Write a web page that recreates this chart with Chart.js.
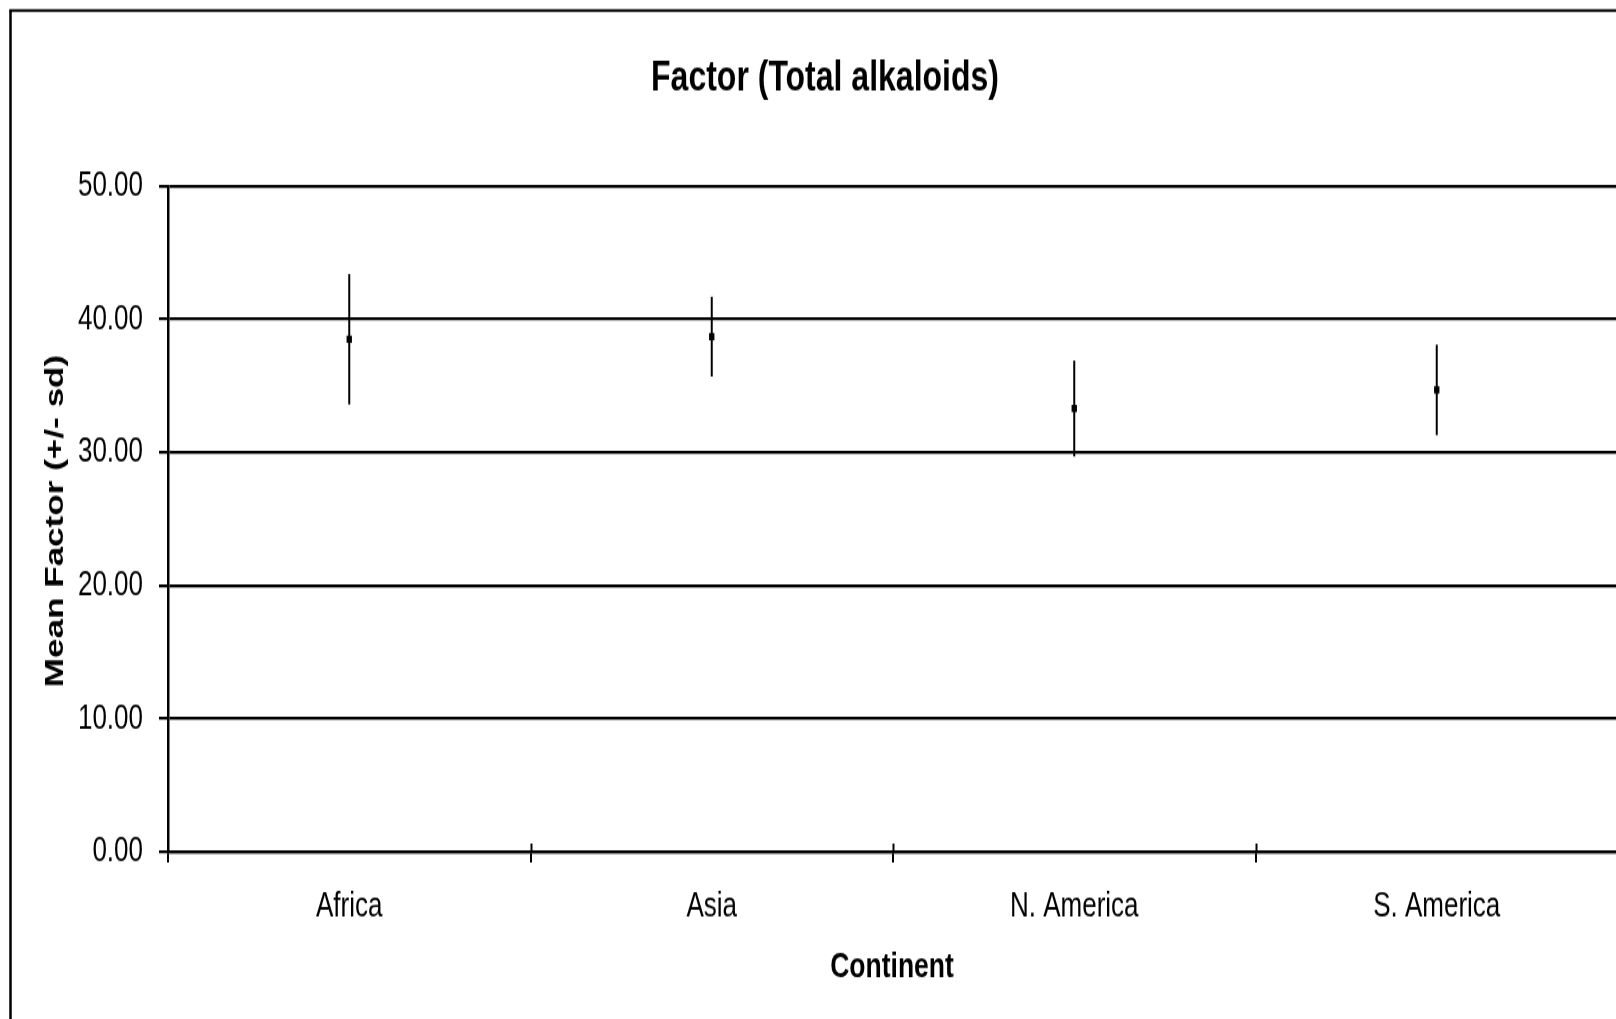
<!DOCTYPE html>
<html>
<head>
<meta charset="utf-8">
<script src="https://cdn.jsdelivr.net/npm/chart.js@4/dist/chart.umd.min.js"></script>
<style>
  html, body { margin: 0; padding: 0; background: #fff; overflow: hidden; }
  #wrap { width: 1616px; height: 1019px; position: relative; overflow: hidden; }
  /* the source chart is stretched vertically (tall, narrow-looking text);
     the canvas is a bit wider than the page because the plot runs past the right edge */
  #factorChart { position: absolute; left: 0; top: 0; transform-origin: 0 0; transform: scaleY(1.34967); }
</style>
</head>
<body>
<div id="wrap"><canvas id="factorChart" width="1622" height="755"></canvas></div>
<script>
// data
const continents = ['Africa', 'Asia', 'N. America', 'S. America'];
const meanFactor = [38.5, 38.7, 33.3, 34.7];
const sdFactor = [4.9, 3.0, 3.6, 3.4];
const yMin = 0, yMax = 50, yStep = 10;

const chartTitle = 'Factor (Total alkaloids)';
const xTitle = 'Continent';
const yTitle = 'Mean Factor (+/- sd)';

const fontFam = "'Liberation Sans', Arial, Helvetica, sans-serif";

// vertical sd lines, drawn through the y scale
const errorBars = {
    id: 'errorBars',
    beforeDatasetsDraw(chart) {
        const ctx = chart.ctx;
        const x = chart.scales.x, y = chart.scales.y;
        ctx.save();
        ctx.strokeStyle = '#000';
        ctx.lineWidth = 2;
        meanFactor.forEach((m, i) => {
            const px = x.getPixelForValue(i);
            ctx.beginPath();
            ctx.moveTo(px, y.getPixelForValue(m + sdFactor[i]));
            ctx.lineTo(px, y.getPixelForValue(m - sdFactor[i]));
            ctx.stroke();
        });
        ctx.restore();
    }
};

// titles, frame and crossing category ticks
const decorations = {
    id: 'decorations',
    afterDraw(chart) {
        const ctx = chart.ctx;
        const area = chart.chartArea;
        ctx.save();

        // outer frame (right and bottom edges are cropped in the original)
        ctx.strokeStyle = '#000';
        ctx.lineWidth = 2.5;
        ctx.beginPath();
        ctx.moveTo(10.5, chart.height + 5);
        ctx.lineTo(10.5, 7.8);
        ctx.stroke();
        ctx.lineWidth = 1.9;
        ctx.beginPath();
        ctx.moveTo(9.3, 7.8);
        ctx.lineTo(chart.width + 5, 7.8);
        ctx.stroke();

        // category boundary ticks poke up into the plot as well
        ctx.lineWidth = 2;
        const step = (area.right - area.left) / continents.length;
        for (let i = 1; i < continents.length; i++) {
            const px = Math.round(area.left + i * step) + 0.5;
            ctx.beginPath();
            ctx.moveTo(px, area.bottom - 6);
            ctx.lineTo(px, area.bottom);
            ctx.stroke();
        }

        ctx.fillStyle = '#000';
        ctx.textAlign = 'center';
        ctx.textBaseline = 'alphabetic';

        ctx.font = 'bold 32px ' + fontFam;
        ctx.fillText(chartTitle, 825, 67);

        ctx.font = 'bold 26.5px ' + fontFam;
        ctx.fillText(xTitle, 892, 724);

        ctx.translate(63, 386);
        ctx.rotate(-Math.PI / 2);
        ctx.font = 'bold 26px ' + fontFam;
        ctx.fillText(yTitle, 0, 0);

        ctx.restore();
    }
};

const ctx = document.getElementById('factorChart').getContext('2d');

new Chart(ctx, {
    type: 'line',
    data: {
        labels: continents,
        datasets: [{
            label: 'Mean Factor',
            data: meanFactor,
            showLine: false,
            pointStyle: 'rect',
            pointRadius: 3.8,
            pointBackgroundColor: '#000',
            pointBorderColor: '#000',
            pointBorderWidth: 0
        }]
    },
    options: {
        responsive: false,
        maintainAspectRatio: false,
        animation: false,
        devicePixelRatio: 1,
        layout: { padding: { top: 138, right: 0, left: 0, bottom: 0 } },
        plugins: {
            legend: { display: false },
            title: { display: false },
            tooltip: { enabled: false }
        },
        scales: {
            x: {
                offset: true,
                afterFit: s => { s.height = 124; },
                border: { display: true, color: '#000', width: 2.2 },
                grid: {
                    offset: true,
                    drawOnChartArea: false,
                    drawTicks: true,
                    tickLength: 8,
                    color: '#000',
                    lineWidth: 2
                },
                ticks: {
                    color: '#000',
                    font: { family: fontFam, size: 26 },
                    padding: 17,
                    maxRotation: 0
                }
            },
            y: {
                min: yMin,
                max: yMax,
                afterFit: s => { s.width = 168; },
                border: { display: true, color: '#000', width: 2.5 },
                grid: {
                    color: '#000',
                    lineWidth: 2.2,
                    tickLength: 9
                },
                ticks: {
                    stepSize: yStep,
                    color: '#000',
                    font: { family: fontFam, size: 26 },
                    padding: 16,
                    callback: v => v.toFixed(2)
                }
            }
        }
    },
    plugins: [errorBars, decorations]
});
</script>
</body>
</html>
